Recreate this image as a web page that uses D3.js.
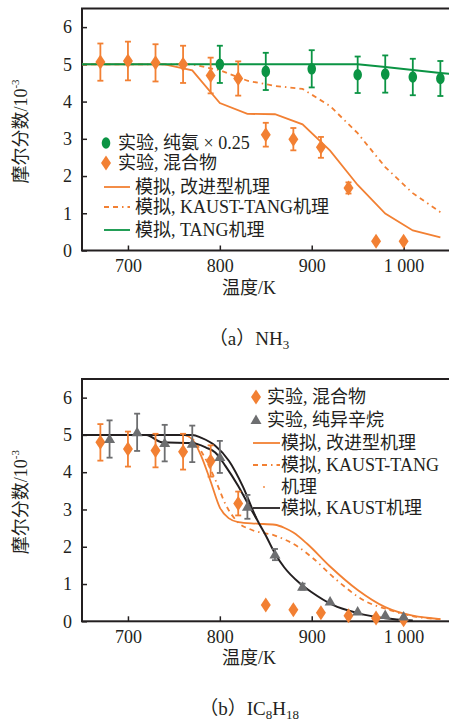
<!DOCTYPE html>
<html>
<head>
<meta charset="utf-8">
<script src="https://cdn.jsdelivr.net/npm/d3@7"></script>
<style>
body { margin: 0; background: #fff; }
text { font-family: "Liberation Serif", "Noto Sans CJK SC", serif; fill: #231f20; }
</style>
</head>
<body>
<div id="chart"></div>
<script>
// ---- data ----
const tempTicks = [700, 800, 900, 1000];
const fracTicks = [0, 1, 2, 3, 4, 5, 6];

// (a) NH3
const nh3PureT = [800, 850, 900, 950, 980, 1010, 1040];
const nh3PureX = [5.0, 4.81, 4.88, 4.72, 4.74, 4.66, 4.62];
const nh3PureErr = [0.5, 0.5, 0.5, 0.49, 0.5, 0.49, 0.47];

const nh3MixT = [670, 700, 730, 760, 790, 820, 850, 880, 910, 940, 970, 1000];
const nh3MixX = [5.06, 5.09, 5.04, 5.0, 4.70, 4.62, 3.11, 2.99, 2.77, 1.68, 0.25, 0.25];
const nh3MixErr = [0.5, 0.52, 0.5, 0.5, 0.48, 0.46, 0.32, 0.3, 0.28, 0.15, 0, 0];

const nh3ImprovedT = [650, 740, 770, 800, 830, 860, 890, 920, 950, 980, 1010, 1040];
const nh3ImprovedX = [5.0, 5.0, 4.84, 3.96, 3.67, 3.66, 3.39, 2.68, 1.76, 0.99, 0.54, 0.35];

const nh3KaustTangT = [650, 770, 800, 830, 860, 890, 920, 950, 980, 1010, 1040];
const nh3KaustTangX = [5.0, 5.0, 4.84, 4.56, 4.42, 4.34, 3.88, 3.15, 2.24, 1.54, 1.03];

const nh3TangT = [650, 950, 980, 1010, 1040, 1052];
const nh3TangX = [5.0, 5.0, 4.93, 4.85, 4.77, 4.74];

// (b) IC8H18
const ic8MixT = [670, 700, 730, 760, 790, 820, 850, 880, 910, 940, 970, 1000];
const ic8MixX = [4.80, 4.62, 4.58, 4.55, 4.30, 3.16, 0.44, 0.31, 0.23, 0.15, 0.09, 0.04];
const ic8MixErr = [0.49, 0.47, 0.45, 0.48, 0.42, 0.32, 0, 0, 0, 0, 0, 0];

const ic8PureT = [680, 710, 740, 770, 800, 830, 860, 890, 920, 950, 980, 1000];
const ic8PureX = [4.89, 5.07, 4.78, 4.76, 4.41, 3.07, 1.79, 0.93, 0.53, 0.26, 0.17, 0.13];
const ic8PureErr = [0.5, 0.5, 0.49, 0.49, 0.43, 0.32, 0.15, 0.08, 0, 0, 0, 0];

const ic8ImprovedT = [650, 760, 770, 780, 790, 800, 810, 820, 840, 860, 870, 880, 895, 920, 950, 980, 1010, 1040];
const ic8ImprovedX = [5.0, 5.0, 4.88, 4.42, 3.75, 3.05, 2.76, 2.66, 2.62, 2.59, 2.51, 2.38, 2.08, 1.47, 0.84, 0.38, 0.15, 0.06];

const ic8KaustTangT = [650, 760, 770, 780, 795, 807, 820, 835, 860, 885, 900, 927, 956, 985, 1014, 1040];
const ic8KaustTangX = [5.0, 5.0, 4.9, 4.55, 3.8, 3.1, 2.65, 2.45, 2.3, 2.0, 1.72, 1.11, 0.57, 0.30, 0.12, 0.06];

const ic8KaustT = [650, 770, 780, 795, 810, 825, 840, 850, 860, 870, 887, 900, 923, 950, 980, 1010];
const ic8KaustX = [5.0, 5.0, 4.92, 4.71, 4.3, 3.62, 2.75, 2.30, 1.82, 1.45, 1.02, 0.78, 0.44, 0.22, 0.08, 0.02];

const ic8Kaust2T = [650, 720, 737, 770, 785, 795, 806, 820, 832, 840];
const ic8Kaust2X = [5.0, 5.0, 4.80, 4.78, 4.66, 4.53, 4.17, 3.63, 3.09, 2.75];

const legendA = ["实验, 纯氨 × 0.25", "实验, 混合物", "模拟, 改进型机理", "模拟, KAUST-TANG机理", "模拟, TANG机理"];
const legendB = ["实验, 混合物", "实验, 纯异辛烷", "模拟, 改进型机理", "模拟, KAUST-TANG", "机理", "模拟, KAUST机理"];

// ---- styles ----
const orange = "#F28033";
const green = "#0B9444";
const gray = "#6D6E70";
const ink = "#231f20";
const dashPattern = "5,4,5,4,1.5,4";

const svg = d3.select("#chart").append("svg")
              .attr("width", 449)
              .attr("height", 724);

const zip = (ts, vs, es) => ts.map((t, i) => ({t: t, v: vs[i], e: es ? es[i] : 0}));

const ellipsePath = "M0,-5.8A4.3,5.8 0 1,1 0,5.8A4.3,5.8 0 1,1 0,-5.8Z";
function diamondPath() { return "M0,-7.5L5,0L0,7.5L-5,0Z"; }
function trianglePath() { return "M0,-5.5L5.5,4L-5.5,4Z"; }

function drawPanel(p) {
    const xScale = d3.scaleLinear().domain([650, 1052]).range([82, 451.4]);
    const yScale = d3.scaleLinear().domain([0, 6.5]).range([p.bottom, p.top]);
    const g = svg.append("g");

    // axes with inward ticks
    g.append("g")
     .attr("transform", "translate(82,0)")
     .call(d3.axisLeft(yScale).tickValues(fracTicks).tickSize(-5).tickPadding(10).tickFormat(d3.format("d")))
     .call(a => a.select(".domain").remove())
     .call(a => a.selectAll("line").attr("stroke", ink).attr("stroke-width", 1.5))
     .call(a => a.selectAll("text").attr("font-size", 18).attr("fill", ink));
    g.append("g")
     .attr("transform", "translate(0," + p.bottom + ")")
     .call(d3.axisBottom(xScale).tickValues(tempTicks).tickSize(-5).tickPadding(9)
             .tickFormat(d => d >= 1000 ? "1 000" : d))
     .call(a => a.select(".domain").remove())
     .call(a => a.selectAll("line").attr("stroke", ink).attr("stroke-width", 1.5))
     .call(a => a.selectAll("text").attr("font-size", 18).attr("fill", ink));

    g.append("rect")
     .attr("x", 82).attr("y", p.top)
     .attr("width", 451.4 - 82).attr("height", p.bottom - p.top)
     .attr("fill", "none").attr("stroke", ink).attr("stroke-width", 2);

    // axis titles
    const yl = g.append("text")
                .attr("transform", "translate(27," + ((p.top + p.bottom) / 2 + 2) + ") rotate(-90)")
                .attr("text-anchor", "middle")
                .attr("font-size", 18);
    yl.append("tspan").text("摩尔分数/10");
    yl.append("tspan").attr("font-size", 11).attr("dy", -8).text("-3");

    g.append("text").attr("x", 249).attr("y", p.bottom + 43)
     .attr("text-anchor", "middle").attr("font-size", 18).text("温度/K");

    const cap = g.append("text").attr("x", 249).attr("y", p.bottom + 94)
                 .attr("text-anchor", "middle").attr("font-size", 19);
    p.caption.forEach(c => {
        const ts = cap.append("tspan").text(c.s);
        if (c.sub) ts.attr("font-size", 13).attr("dy", 4);
        else if (c.reset) ts.attr("dy", -4);
    });

    const line = d3.line().x(d => xScale(d.t)).y(d => yScale(d.v));

    p.lines.forEach(l => {
        g.append("path")
         .datum(zip(l.t, l.x))
         .attr("d", line.curve(l.curve || d3.curveLinear))
         .attr("fill", "none")
         .attr("stroke", l.color)
         .attr("stroke-width", l.width || 1.8)
         .attr("stroke-dasharray", l.dash || null);
    });

    p.points.forEach(s => {
        const data = zip(s.t, s.x, s.err);
        const eb = g.append("g").selectAll("g").data(data.filter(d => d.e > 0)).join("g")
                    .attr("stroke", s.barColor).attr("stroke-width", 1.8);
        eb.append("line")
          .attr("x1", d => xScale(d.t)).attr("x2", d => xScale(d.t))
          .attr("y1", d => yScale(d.v + d.e)).attr("y2", d => yScale(d.v - d.e));
        [1, -1].forEach(sg => {
            eb.append("line")
              .attr("x1", d => xScale(d.t) - 3).attr("x2", d => xScale(d.t) + 3)
              .attr("y1", d => yScale(d.v + sg * d.e)).attr("y2", d => yScale(d.v + sg * d.e));
        });
        const mk = g.append("g").selectAll("path").data(data).join("path")
                    .attr("fill", s.color)
                    .attr("transform", d => "translate(" + xScale(d.t) + "," + yScale(d.v) + ")");
        if (s.shape === "circle") mk.attr("d", ellipsePath);
        else if (s.shape === "diamond") mk.attr("d", diamondPath());
        else mk.attr("d", trianglePath());
    });

    // legend
    p.legend.forEach(r => {
        if (r.shape === "circle") {
            g.append("path").attr("transform", "translate(" + r.mx + "," + r.y + ")")
             .attr("d", ellipsePath).attr("fill", r.color);
        } else if (r.shape === "diamond") {
            g.append("path").attr("transform", "translate(" + r.mx + "," + r.y + ")")
             .attr("d", diamondPath()).attr("fill", r.color);
        } else if (r.shape === "triangle") {
            g.append("path").attr("transform", "translate(" + r.mx + "," + r.y + ")")
             .attr("d", trianglePath()).attr("fill", r.color);
        } else if (r.shape === "line") {
            g.append("line").attr("x1", r.x1).attr("x2", r.x2).attr("y1", r.y).attr("y2", r.y)
             .attr("stroke", r.color).attr("stroke-width", 1.8).attr("stroke-dasharray", r.dash || null);
        } else if (r.shape === "dot") {
            g.append("circle").attr("cx", r.mx).attr("cy", r.y).attr("r", 0.9).attr("fill", r.color);
        }
        g.append("text").attr("x", r.tx).attr("y", r.y).attr("dy", "0.35em")
         .attr("font-size", 18).text(r.label);
    });
}

drawPanel({
    top: 8.5, bottom: 250.5,
    caption: [{s: "（a）NH"}, {s: "3", sub: true}],
    lines: [
        {t: nh3KaustTangT, x: nh3KaustTangX, color: orange, dash: dashPattern},
        {t: nh3ImprovedT, x: nh3ImprovedX, color: orange},
        {t: nh3TangT, x: nh3TangX, color: green, width: 2}
    ],
    points: [
        {t: nh3PureT, x: nh3PureX, err: nh3PureErr, color: green, barColor: green, shape: "circle"},
        {t: nh3MixT, x: nh3MixX, err: nh3MixErr, color: orange, barColor: orange, shape: "diamond"}
    ],
    legend: [
        {shape: "circle", color: green, mx: 106, tx: 118, y: 143, label: legendA[0]},
        {shape: "diamond", color: orange, mx: 106, tx: 118, y: 163, label: legendA[1]},
        {shape: "line", color: orange, x1: 104, x2: 130, tx: 135, y: 187, label: legendA[2]},
        {shape: "line", color: orange, dash: dashPattern, x1: 104, x2: 130, tx: 135, y: 207, label: legendA[3]},
        {shape: "line", color: green, x1: 104, x2: 130, tx: 135, y: 230, label: legendA[4]}
    ]
});

drawPanel({
    top: 379, bottom: 621.3,
    caption: [{s: "（b）IC"}, {s: "8", sub: true}, {s: "H", reset: true}, {s: "18", sub: true}],
    lines: [
        {t: ic8KaustTangT, x: ic8KaustTangX, color: orange, dash: dashPattern, curve: d3.curveMonotoneX},
        {t: ic8ImprovedT, x: ic8ImprovedX, color: orange, curve: d3.curveMonotoneX},
        {t: ic8Kaust2T, x: ic8Kaust2X, color: ink, width: 2, curve: d3.curveMonotoneX},
        {t: ic8KaustT, x: ic8KaustX, color: ink, width: 2, curve: d3.curveMonotoneX}
    ],
    points: [
        {t: ic8MixT, x: ic8MixX, err: ic8MixErr, color: orange, barColor: orange, shape: "diamond"},
        {t: ic8PureT, x: ic8PureX, err: ic8PureErr, color: gray, barColor: gray, shape: "triangle"}
    ],
    legend: [
        {shape: "diamond", color: orange, mx: 256, tx: 267, y: 397, label: legendB[0]},
        {shape: "triangle", color: gray, mx: 256, tx: 267, y: 420, label: legendB[1]},
        {shape: "line", color: orange, x1: 253, x2: 280, tx: 281, y: 443, label: legendB[2]},
        {shape: "line", color: orange, dash: dashPattern, x1: 253, x2: 280, tx: 281, y: 465, label: legendB[3]},
        {shape: "dot", color: orange, mx: 264, tx: 281, y: 487, label: legendB[4]},
        {shape: "line", color: ink, x1: 253, x2: 280, tx: 281, y: 508, label: legendB[5]}
    ]
});
</script>
</body>
</html>
